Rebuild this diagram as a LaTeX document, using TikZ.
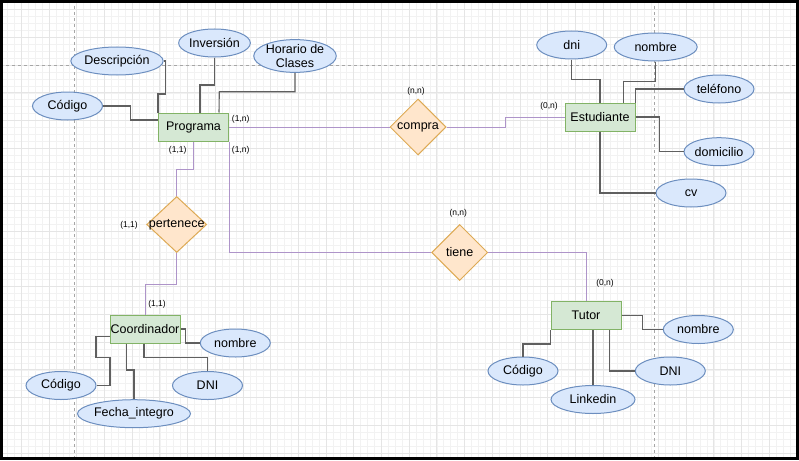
\documentclass[tikz,border=0pt]{standalone}
\usepackage{fontspec}
\setmainfont{Liberation Sans}
\usepackage{xcolor}
\usetikzlibrary{shapes.geometric,calc}

\definecolor{entfill}{HTML}{D5E8D4}
\definecolor{entdraw}{HTML}{82B366}
\definecolor{attfill}{HTML}{DAE8FC}
\definecolor{attdraw}{HTML}{6C8EBF}
\definecolor{relfill}{HTML}{FFE6CC}
\definecolor{reldraw}{HTML}{DDAA55}
\definecolor{edgegray}{HTML}{5F5F5F}
\definecolor{edgepurple}{HTML}{AE94C9}

\begin{document}
\begin{tikzpicture}[x=1pt,y=-1pt,
  entity/.style={draw=entdraw, fill=entfill, line width=1pt, minimum width=70pt, minimum height=28pt, inner sep=0pt, font=\fontsize{12.5}{14}\selectfont},
  attrib/.style={ellipse, draw=attdraw, fill=attfill, line width=1pt, minimum width=70pt, minimum height=28pt, inner sep=0pt, align=center, font=\fontsize{12.5}{14}\selectfont},
  relation/.style={diamond, draw=reldraw, fill=relfill, line width=1pt, minimum width=56pt, minimum height=56pt, inner sep=0pt, label={[font=\fontsize{12.5}{14}\selectfont]center:#1}},
  attrline/.style={draw=edgegray, line width=1.1pt},
  relline/.style={draw=edgepurple, line width=1pt},
  card/.style={font=\fontsize{8.5}{10}\selectfont, inner sep=0pt},
  gridminor/.style={draw=black!5, line width=0.6pt},
  gridmajor/.style={draw=black!10, line width=0.8pt},
  pagebreak/.style={draw=black!35, line width=0.7pt, dash pattern=on 3pt off 3pt}
]
\useasboundingbox (0,0) rectangle (799,460);
\fill[white] (0,0) rectangle (799,460);

% background grid of the canvas
\begin{scope}
\clip (3,3) rectangle (796,457);
\foreach \gx in {0.525,7.45,...,799} \draw[gridminor] (\gx,0) -- (\gx,460);
\foreach \gy in {2.775,9.7,...,460} \draw[gridminor] (0,\gy) -- (799,\gy);
\foreach \gx in {21.3,49,...,799} \draw[gridmajor] (\gx,0) -- (\gx,460);
\foreach \gy in {9.7,37.4,...,460} \draw[gridmajor] (0,\gy) -- (799,\gy);
\draw[pagebreak] (74,0) -- (74,460);
\draw[pagebreak] (654.5,0) -- (654.5,460);
\draw[pagebreak] (0,65) -- (799,65);
\end{scope}
\draw[line width=3pt] (1.5,1.5) rectangle (797,458);

% entities
\node[entity] (prog) at (193.5,127) {Programa};
\node[entity] (est) at (600,117) {Estudiante};
\node[entity] (coord) at (145,329) {Coordinador};
\node[entity] (tutor) at (586,315.5) {Tutor};

% relationships
\node[relation=compra] (compra) at (418,127) {};
\node[relation=pertenece, minimum width=60pt] (pert) at (176.7,224.5) {};
\node[relation=tiene] (tiene) at (459.7,252.5) {};

% attributes of Programa
\node[attrib] (pcod) at (67.5,106) {Código};
\node[attrib] (pdesc) at (117,61) {Descripción};
\node[attrib] (pinv) at (214.5,43) {Inversión};
\node[attrib, minimum width=78pt] (phor) at (295,56) {Horario de\\Clases};

% attributes of Estudiante
\node[attrib] (edni) at (571.7,45) {dni};
\node[attrib, minimum width=83pt] (enom) at (655.7,47) {nombre};
\node[attrib] (etel) at (719,89) {teléfono};
\node[attrib] (edom) at (719,151.7) {domicilio};
\node[attrib] (ecv) at (691,193) {cv};

% attributes of Coordinador
\node[attrib] (cnom) at (235.3,343) {nombre};
\node[attrib] (ccod) at (61,385.5) {Código};
\node[attrib, minimum width=92pt] (cfec) at (134,413.7) {Fecha\_integro};
\node[attrib] (cdni) at (207.5,385.5) {DNI};

% attributes of Tutor
\node[attrib] (tnom) at (698.3,329.5) {nombre};
\node[attrib] (tcod) at (523,371) {Código};
\node[attrib, minimum width=84pt] (tlink) at (593,399.5) {Linkedin};
\node[attrib] (tdni) at (670.3,371) {DNI};

% attribute connectors
\draw[attrline] (pcod.east) -| (130.7,120) -- ([yshift=7pt]prog.west);
\draw[attrline] (pdesc.east) -| (165.7,94) -| (prog.north west);
\draw[attrline] (pinv.south) |- (200,85) -- ([xshift=6.5pt]prog.north);
\draw[attrline] (phor.south) |- (219.3,91.7) -- ([xshift=-10pt]prog.north east);
\draw[attrline] (edni.south) |- (600,79.3) -- (est.north);
\draw[attrline] (enom.south) |- (623.3,81.3) -- ([xshift=23.3pt]est.north);
\draw[attrline] (etel.west) -| (est.north east);
\draw[attrline] (est.east) -| (659.3,151.7) -- (edom.west);
\draw[attrline] (est.south) |- (ecv.west);
\draw[attrline] (coord.east) -| (185.7,343) -- (cnom.west);
\draw[attrline] ([yshift=-7.7pt]coord.west) -| (96,357.7) -| (110,385.5) -- (ccod.east);
\draw[attrline] ([xshift=-18.3pt]coord.south) |- (134,370) -- (cfec.north);
\draw[attrline] ([xshift=-1pt]coord.south) |- (207.5,357.7) -- (cdni.north);
\draw[attrline] (tutor.east) -| (642.3,329.5) -- (tnom.west);
\draw[attrline] (tutor.south west) |- (523,344) -- (tcod.north);
\draw[attrline] (tlink.north |- tutor.south) -- (tlink.north);
\draw[attrline] ([xshift=23.3pt]tutor.south) |- (tdni.west);

% relationship connectors
\draw[relline] (prog.east) -- (compra.west);
\draw[relline] (compra.east) -| (505.7,117) -- (est.west);
\draw[relline] (prog.south) |- (176.7,169) -- (pert.north);
\draw[relline] (pert.south) |- (145,284) -- (coord.north);
\draw[relline] (prog.south east) |- (tiene.west);
\draw[relline] (tiene.east) -| (tutor.north);

% cardinalities
\node[card] (c1) at (240.7,119) {(1,n)};
\node[card] (c2) at (240.7,150.7) {(1,n)};
\node[card] (c3) at (177.7,150.7) {(1,1)};
\node[card] (c4) at (416,91.7) {(n,n)};
\node[card] (c5) at (549,106.7) {(0,n)};
\node[card] (c6) at (129,225) {(1,1)};
\node[card] (c7) at (458.3,213.3) {(n,n)};
\node[card] (c8) at (157,304.5) {(1,1)};
\node[card] (c9) at (605,283.3) {(0,n)};
\end{tikzpicture}
\end{document}
